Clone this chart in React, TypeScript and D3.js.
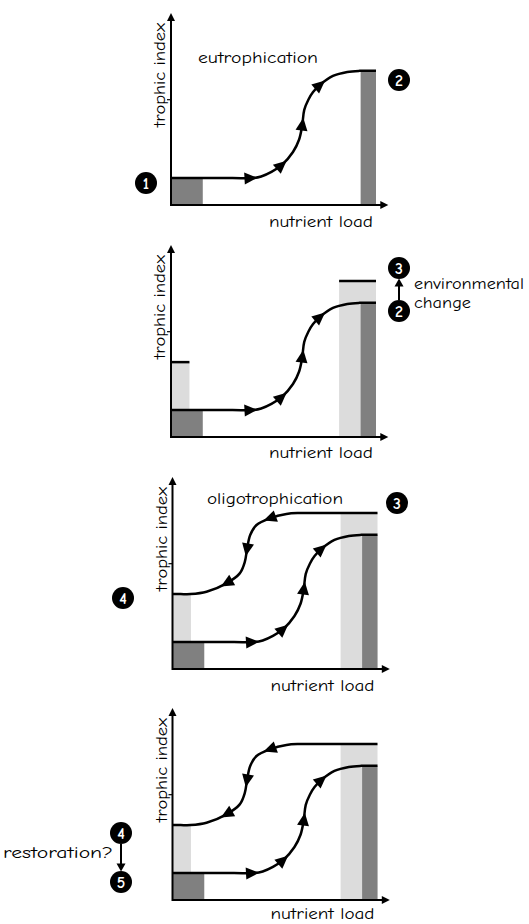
import { useEffect, useRef } from 'react';
import * as d3 from 'd3';

// nutrient load (0-100) vs trophic index (0-100)
const eutrophicPath: [number, number][] = [
    [0, 17.3], [30, 17.3], [40, 17.3], [44, 18.3], [49, 21.2], [54, 25.6], [59.5, 34], [62.5, 42],
    [64, 51], [65, 61], [67, 67.5], [69.3, 72.4], [72.7, 77], [79, 82.7], [86, 85.3],
    [92, 86], [100, 86]
];
const oligotrophicPath: [number, number][] = [
    [0, 48], [4, 48], [8.8, 48], [16.6, 49.5], [26.3, 54.9], [32.8, 61.3], [35.3, 68.8], [36.3, 76.3],
    [37.9, 85.9], [41, 92.3], [47.5, 96.6], [55.6, 99.4], [62, 100], [70, 100], [100, 100]
];
// where the direction arrows sit on each path
const eutrophicArrows: [number, number][] = [[39, 17.3], [54, 25.6], [64.2, 52], [72.7, 77]];
const oligotrophicArrows: [number, number][] = [[26.3, 54.9], [36.3, 76.3], [47.5, 96.6]];

// trophic levels
const baseLevel = 17.3;
const eutrophicLevel = 86;
const shiftedLevel = 100;
const restoredLevel = 48;

// nutrient load bands
const lowLoadDark = [0, 15.5];
const lowLoadLight = [0, 9];
const highLoadLight = [82, 100];
const highLoadDark = [92.5, 100];

const axisMax = { x: 106, y: 123 };
const yTick = 67.5;

const xLabel = 'nutrient load';
const yLabel = 'trophic index';

type Panel = {
    ox: number, oy: number, labelDy: number,
    stage: 'eutrophication' | 'change' | 'oligotrophication' | 'restoration',
    title?: string, titleX?: number, titleY?: number, titleLen?: number
};

const panels: Panel[] = [
    { ox: 171, oy: 205, labelDy: 22, stage: 'eutrophication', title: 'eutrophication', titleX: 198, titleY: 63, titleLen: 120 },
    { ox: 171, oy: 437, labelDy: 21, stage: 'change' },
    { ox: 172.5, oy: 669, labelDy: 22, stage: 'oligotrophication', title: 'oligotrophication', titleX: 207, titleY: 504, titleLen: 136 },
    { ox: 172.5, oy: 900, labelDy: 19, stage: 'restoration' },
];

const badges = [
    { label: '1', x: 146, y: 183 }, { label: '2', x: 399, y: 80 },
    { label: '3', x: 399, y: 268 }, { label: '2', x: 399, y: 311 },
    { label: '3', x: 397, y: 503 }, { label: '4', x: 123, y: 598 },
    { label: '4', x: 121, y: 833 }, { label: '5', x: 121, y: 882 },
];
const badgeLinks = [[2, 3], [7, 6]]; // [to, from]

const notes = [
    { text: 'environmental', x: 414, y: 289, len: 110 },
    { text: 'change', x: 414, y: 308, len: 57 },
    { text: 'restoration?', x: 3, y: 858, len: 110 },
];

const FONT = "'Comic Sans MS', 'Comic Neue', 'DejaVu Sans', sans-serif";
const DARK = '#808080';
const LIGHT = '#dcdcdc';

function head(g: any, x: number, y: number, angle: number, len: number, hw: number) {
    g.append('path')
        .attr('d', `M${len / 2},0L${-len / 2},${-hw}L${-len / 2},${hw}Z`)
        .attr('transform', `translate(${x},${y}) rotate(${angle})`)
        .attr('fill', '#000');
}

export default function App() {
    const ref = useRef<SVGSVGElement>(null);

    useEffect(() => {
        const svg = d3.select(ref.current);
        svg.selectAll('*').remove();

        const x = d3.scaleLinear().domain([0, 100]).range([0, 205]);
        const y = d3.scaleLinear().domain([0, 100]).range([0, -156]);
        const line = d3.line<[number, number]>().x(d => x(d[0])).y(d => y(d[1])).curve(d3.curveCatmullRom.alpha(0.5));

        const rect = (g: any, xs: number[], y0: number, y1: number, fill: string) =>
            g.append('rect')
                .attr('x', x(xs[0])).attr('width', x(xs[1]) - x(xs[0]))
                .attr('y', y(y1)).attr('height', y(y0) - y(y1))
                .attr('fill', fill);

        const curve = (g: any, data: [number, number][], arrows: [number, number][], reversed: boolean) => {
            const p = g.append('path').attr('d', line(data)).attr('fill', 'none')
                .attr('stroke', '#000').attr('stroke-width', 2.5);
            const node = p.node() as SVGPathElement;
            const total = node.getTotalLength();
            arrows.forEach(a => {
                const tx = x(a[0]), ty = y(a[1]);
                let best = 0, bestD = Infinity;
                for (let l = 0; l <= total; l += 0.5) {
                    const pt = node.getPointAtLength(l);
                    const d = (pt.x - tx) ** 2 + (pt.y - ty) ** 2;
                    if (d < bestD) { bestD = d; best = l; }
                }
                const p0 = node.getPointAtLength(Math.max(0, best - 3));
                const p1 = node.getPointAtLength(Math.min(total, best + 3));
                let ang = Math.atan2(p1.y - p0.y, p1.x - p0.x) * 180 / Math.PI;
                if (reversed) ang += 180;
                const c = node.getPointAtLength(best);
                head(g, c.x, c.y, ang, 13, 6);
            });
        };

        panels.forEach(pn => {
            const g = svg.append('g').attr('transform', `translate(${pn.ox},${pn.oy})`);
            const shifted = pn.stage !== 'eutrophication';
            const withReturn = pn.stage === 'oligotrophication' || pn.stage === 'restoration';

            if (shifted) {
                rect(g, lowLoadLight, baseLevel, restoredLevel, LIGHT);
                rect(g, highLoadLight, 0, shiftedLevel, LIGHT);
            }
            rect(g, lowLoadDark, 0, baseLevel, DARK);
            rect(g, highLoadDark, 0, eutrophicLevel, DARK);

            if (pn.stage === 'change') {
                [[lowLoadLight, restoredLevel], [highLoadLight, shiftedLevel]].forEach(([xs, lv]: any) => {
                    g.append('line')
                        .attr('x1', x(xs[0])).attr('x2', x(xs[1]))
                        .attr('y1', y(lv)).attr('y2', y(lv))
                        .attr('stroke', '#000').attr('stroke-width', 2.5);
                });
            }

            curve(g, eutrophicPath, eutrophicArrows, false);
            if (withReturn) curve(g, oligotrophicPath, oligotrophicArrows, true);

            // axes
            g.append('line').attr('x1', 0).attr('x2', x(axisMax.x) - 4).attr('y1', 0).attr('y2', 0)
                .attr('stroke', '#000').attr('stroke-width', 2);
            head(g, x(axisMax.x) - 4, 0, 0, 8, 4);
            g.append('line').attr('x1', 0).attr('x2', 0).attr('y1', 1).attr('y2', y(axisMax.y) + 4)
                .attr('stroke', '#000').attr('stroke-width', 2);
            head(g, 0, y(axisMax.y) + 4, -90, 8, 4);
            g.append('line').attr('x1', -4).attr('x2', 0).attr('y1', y(yTick)).attr('y2', y(yTick))
                .attr('stroke', '#000').attr('stroke-width', 1.2);

            g.append('text').text(xLabel)
                .attr('x', 98).attr('y', pn.labelDy)
                .attr('textLength', 104).attr('lengthAdjust', 'spacingAndGlyphs')
                .attr('font-family', FONT).attr('font-size', 16);
            g.append('text').text(yLabel)
                .attr('transform', `translate(-6,-78) rotate(-90)`)
                .attr('textLength', 104).attr('lengthAdjust', 'spacingAndGlyphs')
                .attr('font-family', FONT).attr('font-size', 16);

            if (pn.title) {
                svg.append('text').text(pn.title)
                    .attr('x', pn.titleX!).attr('y', pn.titleY!)
                    .attr('textLength', pn.titleLen!).attr('lengthAdjust', 'spacingAndGlyphs')
                    .attr('font-family', FONT).attr('font-size', 16);
            }
        });

        // badge arrows
        badgeLinks.forEach(([to, from]) => {
            const a = badges[from], b = badges[to];
            const dir = Math.sign(b.y - a.y);
            const y0 = a.y + dir * 11, y1 = b.y - dir * 11;
            svg.append('line').attr('x1', a.x).attr('x2', b.x).attr('y1', y0).attr('y2', y1 - dir * 4)
                .attr('stroke', '#000').attr('stroke-width', 2);
            head(svg, b.x, y1 - dir * 3.5, dir > 0 ? 90 : -90, 8, 4.5);
        });

        badges.forEach(b => {
            svg.append('circle').attr('cx', b.x).attr('cy', b.y).attr('r', 11).attr('fill', '#000');
            svg.append('text').text(b.label)
                .attr('x', b.x).attr('y', b.y + 5.5)
                .attr('text-anchor', 'middle').attr('fill', '#fff')
                .attr('font-family', FONT).attr('font-weight', 'bold').attr('font-size', 16);
        });

        notes.forEach(n => {
            svg.append('text').text(n.text)
                .attr('x', n.x).attr('y', n.y)
                .attr('textLength', n.len).attr('lengthAdjust', 'spacingAndGlyphs')
                .attr('font-family', FONT).attr('font-size', 15);
        });
    }, []);

    return <svg ref={ref} width={529} height={924}
        style={{ position: 'absolute', left: 0, top: 0, background: '#fff' }} />;
}
